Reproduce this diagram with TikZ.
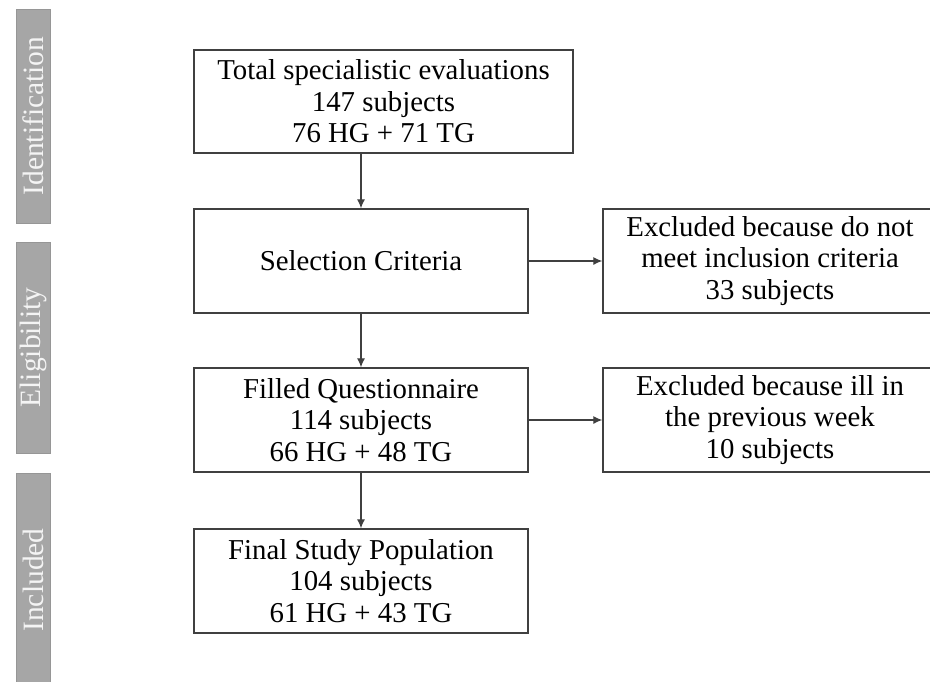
\documentclass[tikz,border=0pt]{standalone}
\usepackage{fontspec}
\setmainfont{Liberation Serif}
\usetikzlibrary{arrows.meta,positioning}

\definecolor{barfill}{HTML}{A6A6A6}
\definecolor{barline}{HTML}{969696}
\definecolor{bartext}{HTML}{F4F4F4}
\definecolor{boxline}{HTML}{404040}

\begin{document}
\begin{tikzpicture}[x=1pt, y=-1pt,
    box/.style={draw=boxline, line width=1.3pt, minimum width=334pt, minimum height=104pt,
      inner sep=0pt, align=center, font=\fontsize{28.8}{31.5}\selectfont},
    phase/.style={draw=barline, fill=barfill, line width=1pt, rotate=90, minimum height=34pt,
      inner sep=0pt, text=bartext, font=\fontsize{29.5}{30}\selectfont},
    flow/.style={draw=boxline, line width=1.2pt, -{Latex[length=9pt,width=8pt]}}]
    \useasboundingbox (0,0) rectangle (930,681);

    % Draw phase bars
    \node[phase, minimum width=214pt] (ident) at (33,116) {Identification};
    \node[phase, minimum width=211pt] (elig) at (33,347.5) {Eligibility};
    \node[phase, minimum width=214pt] (incl) at (33,580) {Included};

    % Draw main boxes
    \node[box, minimum width=379pt, minimum height=103pt] (total) at (383.5,101.5)
      {Total specialistic evaluations\\147 subjects\\76 HG + 71 TG};
    \node[box] (select) at (361,261) {Selection Criteria};
    \node[box] (filled) at (361,420) {Filled Questionnaire\\114 subjects\\66 HG + 48 TG};
    \node[box] (final) at (361,581) {Final Study Population\\104 subjects\\61 HG + 43 TG};

    % Draw exclusion boxes
    \node[box] (exclcrit) at (770,261) {Excluded because do not\\meet inclusion criteria\\33 subjects};
    \node[box] (exclill) at (770,420) {Excluded because ill in\\the previous week\\10 subjects};

    % Draw arrows
    \draw[flow] (select.north |- total.south) -- (select.north);
    \draw[flow] (select.south) -- (filled.north);
    \draw[flow] (filled.south) -- (final.north);
    \draw[flow] (select.east) -- (exclcrit.west);
    \draw[flow] (filled.east) -- (exclill.west);
  \end{tikzpicture}
\end{document}
